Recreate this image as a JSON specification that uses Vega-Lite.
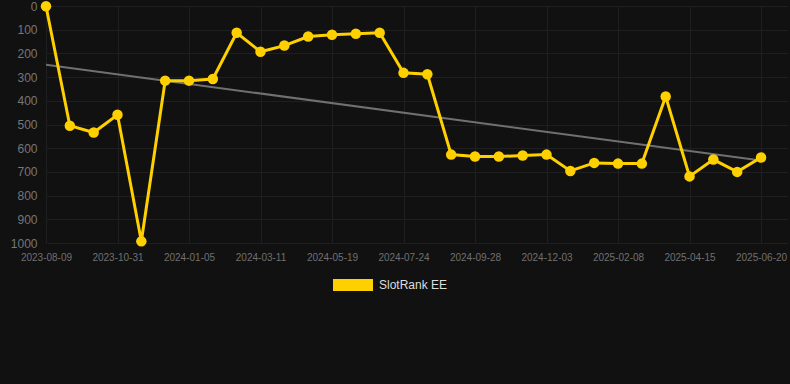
{
  "$schema": "https://vega.github.io/schema/vega-lite/v6.json",
  "width": 742,
  "height": 237,
  "autosize": {"type": "none"},
  "padding": {"left": 46, "top": 6, "right": 2, "bottom": 141},
  "background": "#111111",
  "config": {
    "view": {"stroke": null},
    "font": "Liberation Sans",
    "axis": {"gridColor": "#1f1f1f", "gridWidth": 1, "domain": false, "ticks": false}
  },
  "datasets": {
    "rank": [
      {"date": "2023-08-09", "rank": 1, "series": "SlotRank EE"},
      {"date": "2023-09-06", "rank": 505, "series": "SlotRank EE"},
      {"date": "2023-10-03", "rank": 534, "series": "SlotRank EE"},
      {"date": "2023-10-31", "rank": 459, "series": "SlotRank EE"},
      {"date": "2023-11-22", "rank": 993, "series": "SlotRank EE"},
      {"date": "2023-12-14", "rank": 315, "series": "SlotRank EE"},
      {"date": "2024-01-05", "rank": 315, "series": "SlotRank EE"},
      {"date": "2024-01-27", "rank": 308, "series": "SlotRank EE"},
      {"date": "2024-02-18", "rank": 113, "series": "SlotRank EE"},
      {"date": "2024-03-11", "rank": 193, "series": "SlotRank EE"},
      {"date": "2024-04-03", "rank": 167, "series": "SlotRank EE"},
      {"date": "2024-04-26", "rank": 129, "series": "SlotRank EE"},
      {"date": "2024-05-19", "rank": 121, "series": "SlotRank EE"},
      {"date": "2024-06-10", "rank": 117, "series": "SlotRank EE"},
      {"date": "2024-07-02", "rank": 113, "series": "SlotRank EE"},
      {"date": "2024-07-24", "rank": 282, "series": "SlotRank EE"},
      {"date": "2024-08-15", "rank": 288, "series": "SlotRank EE"},
      {"date": "2024-09-06", "rank": 627, "series": "SlotRank EE"},
      {"date": "2024-09-28", "rank": 635, "series": "SlotRank EE"},
      {"date": "2024-10-20", "rank": 635, "series": "SlotRank EE"},
      {"date": "2024-11-11", "rank": 631, "series": "SlotRank EE"},
      {"date": "2024-12-03", "rank": 627, "series": "SlotRank EE"},
      {"date": "2024-12-25", "rank": 696, "series": "SlotRank EE"},
      {"date": "2025-01-17", "rank": 662, "series": "SlotRank EE"},
      {"date": "2025-02-08", "rank": 665, "series": "SlotRank EE"},
      {"date": "2025-03-02", "rank": 665, "series": "SlotRank EE"},
      {"date": "2025-03-24", "rank": 382, "series": "SlotRank EE"},
      {"date": "2025-04-15", "rank": 719, "series": "SlotRank EE"},
      {"date": "2025-05-07", "rank": 648, "series": "SlotRank EE"},
      {"date": "2025-05-29", "rank": 700, "series": "SlotRank EE"},
      {"date": "2025-06-20", "rank": 639, "series": "SlotRank EE"}
    ],
    "trend": [
      {"date": "2023-08-09", "rank": 248},
      {"date": "2025-06-20", "rank": 652}
    ]
  },
  "encoding": {
    "x": {
      "field": "date",
      "type": "ordinal",
      "scale": {"type": "point", "padding": 0.566, "align": 0},
      "axis": {
        "title": null,
        "values": ["2023-08-09", "2023-10-31", "2024-01-05", "2024-03-11", "2024-05-19", "2024-07-24", "2024-09-28", "2024-12-03", "2025-02-08", "2025-04-15", "2025-06-20"],
        "labelAngle": 0,
        "labelFontSize": 10,
        "labelColor": "#707070",
        "labelPadding": 9,
        "grid": true
      }
    },
    "y": {
      "field": "rank",
      "type": "quantitative",
      "scale": {"domain": [0, 1000], "reverse": true, "nice": false, "zero": false},
      "axis": {
        "title": null,
        "values": [0, 100, 200, 300, 400, 500, 600, 700, 800, 900, 1000],
        "format": "d",
        "labelFontSize": 12,
        "labelColor": "#777777",
        "labelPadding": 9,
        "grid": true
      }
    }
  },
  "layer": [
    {
      "data": {"name": "trend"},
      "mark": {"type": "line", "color": "#707070", "strokeWidth": 2}
    },
    {
      "data": {"name": "rank"},
      "mark": {
        "type": "line",
        "strokeWidth": 3,
        "point": {"filled": true, "size": 110, "color": "#FFD000", "opacity": 1}
      },
      "encoding": {
        "color": {
          "field": "series",
          "type": "nominal",
          "scale": {"range": ["#FFD000"]},
          "legend": {
            "title": null,
            "orient": "none",
            "legendX": 287,
            "legendY": 259,
            "symbolType": "M-1,-0.3H1V0.3H-1Z",
            "symbolSize": 1600,
            "symbolFillColor": "#FFD000",
            "symbolStrokeWidth": 0,
            "labelColor": "#dddddd",
            "labelFontSize": 12,
            "labelOffset": 6
          }
        }
      }
    }
  ]
}
